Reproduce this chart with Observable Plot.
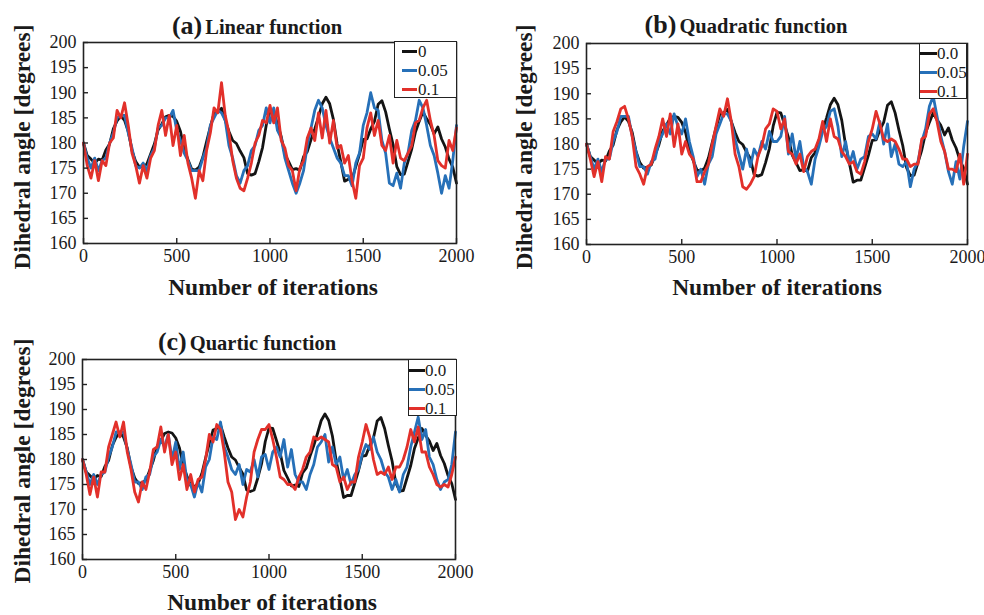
<!DOCTYPE html>
<html><head><meta charset="utf-8">
<script src="https://cdn.jsdelivr.net/npm/d3@7"></script>
<script src="https://cdn.jsdelivr.net/npm/@observablehq/plot@0.6"></script>
<style>
body{margin:0;background:#fff;}
#root{position:relative;width:984px;height:615px;overflow:hidden;font-family:"Liberation Serif","Tinos","Times New Roman","Nimbus Roman","DejaVu Serif",serif;color:#1a1a1a;background:#fff;}
.panel{position:absolute;}
.panel svg{max-width:none;overflow:visible;}
.title{position:absolute;font-weight:bold;white-space:nowrap;transform:translate(-50%,-50%);line-height:1;}
.title .tag{font-size:26px;}
.title .name{font-size:20.5px;margin-left:3px;}
.ylab{position:absolute;font-weight:bold;font-size:23.5px;white-space:nowrap;transform:translate(-50%,-50%) rotate(-90deg);line-height:1;}
.xlab{position:absolute;font-weight:bold;font-size:23.5px;white-space:nowrap;transform:translate(-50%,-50%);line-height:1;}
.legend{position:absolute;border:1.6px solid #222;background:#fff;box-sizing:border-box;}
.legend .ln{position:absolute;height:3px;}
.legend .tx{position:absolute;font-size:17px;line-height:1;transform:translateY(-50%);white-space:nowrap;}
</style>
</head><body>
<div id="root"></div>
<script>
const iterations = d3.range(0, 2001, 20);
const xTicks = [0, 500, 1000, 1500, 2000];
const yTicks = [160, 165, 170, 175, 180, 185, 190, 195, 200];

// unperturbed run (noise 0) – identical in the three panels
const zeroNoise = [180,177.5,176.8,176,176.8,176.6,178.6,179.8,182.8,184.4,
185.4,184.5,182.3,178.5,176.3,175.2,175.4,175.8,177.8,179.8,
182.6,183.8,185.2,185.5,185.3,184.3,182.3,178.8,176.7,174.8,
174.6,175.2,177.2,180.3,183.2,185.9,186.2,186.9,184.5,182.3,
180.5,179.9,178.4,177.1,173.9,173.6,173.9,176.3,179.1,183.6,
186.3,186.2,183.8,181.3,177.8,176.3,174.7,174.9,174.6,177.3,
178.3,180.7,182.8,185.2,187.8,189.1,187.8,184.7,179.8,176.2,
172.4,172.8,172.8,175.3,177.8,180.7,180.8,182.8,184.3,187.7,
188.4,186.2,182.8,179.7,175.3,173.7,173.8,176.3,178.8,182.2,
184.3,186.2,184.8,183.7,181.8,183.2,180.8,179.2,176.8,175.2,
172];

// (a) Linear function
const linear005 = [180,177,175,177,174.5,176.5,177,180,182,185,
185.5,185.5,182,179,175.5,175,176,174.5,177.5,179,
183,183.5,185,185,186.5,182.5,180.5,178,176.5,174.5,
174.5,174.5,177,179,183.5,185,186.5,186,184.5,179.5,
177,173.5,172,174.5,175.5,178.5,179.5,182.5,183.5,187,
184,187,182.5,181,177,174.5,172,170,172,174.5,
179.5,183,186.5,188.5,187,183.5,181,179,177,176,
173.5,173.5,171.5,176,178,183.5,186,190,187,186.5,
180.5,178,172,171.5,174,171,176,178,182.5,184.5,
188.5,187,183.5,179.5,177.5,174,170,173.5,171,176.5,
183.5];
const linear01 = [180,175.5,173,176.5,172.5,176.5,175.5,180,181,186.5,
185,188,183.5,178,175.5,172,175.5,173,177,178.5,
183.5,186.5,181.5,185.5,179.5,183.5,177.5,181.5,176,173,
169,174.5,172.5,178.5,182,187,186,192,185.5,182,
176.5,173,171,170.5,173,176,180,181.5,184.5,184,
187.5,184,187,180.5,179,175.5,174.5,170.5,175,176.5,
181,183,180.5,186,181,186.5,180,184.5,179,179.5,
176,177.5,172.5,169,175.5,177,183,186,181.5,184.5,
179.5,178.5,181.5,176,180.5,177,176.5,178,179.5,184,
184.5,187,188.5,184.5,181.5,176.5,175.5,175,180.5,178.5,
183];

// (b) Quadratic function
const quadratic005 = [180,177.5,175,177,174.5,177,177,180.5,182.5,185.5,
185.5,185.5,181.5,178.5,175.5,175.5,174,176.5,177,180.5,
182,184,182,186,183.5,182,185,180.5,177.5,173.5,
175,172,176,177.5,182,184,186,186,184.5,181,
178,175,179,175.5,179,177.5,180.5,179,182.5,180.5,
180.5,181.5,185.5,178,182,177,180.5,175.5,174.5,172,
177,179.5,182.5,183.5,186.5,187,183.5,177.5,180.5,176,
178.5,175,177,177.5,181.5,182,181,184.5,180,184,
177.5,180,176,175.5,176.5,171.5,175,176.5,180.5,183,
187.5,189.5,185.5,181.5,178.5,174.5,172,176.5,173,179.5,
184.5];
const quadratic01 = [180,177,173.5,176.5,172.5,177.5,177,182.5,184.5,187,
187.5,185,181.5,175.5,174,172,175.5,176,179,181.5,
185,181.5,186,179.5,184,178,180.5,178,177,172.5,
172.5,174.5,176,180,183.5,187,185.5,189,184.5,178,
175.5,171.5,171,172,173.5,177.5,179.5,183,184,187,
186.5,183,185,178.5,178,176,178,174.5,177.5,178.5,
179,181,184.5,180.5,185,181.5,181,178.5,177.5,176,
176.5,174.5,174,176.5,180.5,183,186.5,184,181,180.5,
181,180.5,179,177,177,175.5,176,176,181,181.5,
186,187,184.5,180.5,178.5,175,175,174.5,178,172,
178];

// (c) Quartic function
const quartic005 = [180,177.5,175,177,175,177,177.5,180.5,182.5,185.5,
185.5,185.5,182,179,175.5,175.5,174,176.5,177,180.5,
181.5,184,182.5,185,180,183.5,178,181.5,175.5,175,
172.5,175.5,173.5,178.5,180,184.5,184,187.5,182.5,180.5,
178,177,179,175,178,177.5,180,176.5,180.5,181,
178,181.5,182.5,180.5,184,178.5,182,177,175.5,175.5,
174,177,179,182.5,183.5,185,179.5,182.5,179,180.5,
176,178,175,177,178,181,183,182,184.5,181.5,
180,177.5,176.5,174,176,173.5,177,178.5,182.5,185.5,
188.5,184,186,180.5,179,176,174,175.5,176,179,
185.5];
const quartic01 = [180,177,173,176.5,172.5,177.5,177.5,182.5,185,187.5,
184.5,187.5,181.5,178,173.5,171.5,175.5,174,177.5,182,
182.5,186.5,181.5,185,179,181.5,176,179,174,177,
173.5,176,176.5,180,185,183.5,187,186,181.5,175.5,
173.5,168,170,168.5,172.5,175.5,181.5,184,186,186,
187,184,180.5,176.5,176,175,175,174,176.5,178,
180.5,181.5,184.5,184,184.5,184,183.5,179,178.5,175.5,
176.5,174,175.5,175.5,180.5,183.5,187,184.5,180,177,
177.5,177,178.5,176,178.5,178.5,180,182.5,186,183.5,
186.5,181.5,181.5,178.5,177,175,174.5,175,174.5,177,
180.5];

const colors = {zero: "#141414", blue: "#2670b8", red: "#e2302a"};

// ---- drawing ----
const root = document.getElementById("root");
const rows = vals => vals.map((v, i) => ({it: iterations[i], v}));
const FONT = "'Liberation Serif','Tinos','Times New Roman','Nimbus Roman','DejaVu Serif',serif";

function makePanel(cfg) {
  const chart = Plot.plot({
    width: cfg.width, height: cfg.height,
    marginLeft: cfg.ml, marginRight: cfg.mr, marginTop: cfg.mt, marginBottom: cfg.mb,
    style: {fontFamily: FONT, fontSize: "18px", color: "#1a1a1a", background: "transparent", overflow: "visible"},
    x: {domain: [0, 2000]},
    y: {domain: [160, 200]},
    marks: [
      Plot.line(rows(zeroNoise), {x: "it", y: "v", stroke: colors.zero, strokeWidth: 2.8, strokeLinejoin: "round"}),
      Plot.line(rows(cfg.blue), {x: "it", y: "v", stroke: colors.blue, strokeWidth: 2.8, strokeLinejoin: "round"}),
      Plot.line(rows(cfg.red), {x: "it", y: "v", stroke: colors.red, strokeWidth: 2.8, strokeLinejoin: "round"}),
      Plot.frame({stroke: "#222", strokeWidth: 1.6}),
      Plot.axisX({ticks: xTicks, tickSize: -5, tickPadding: 11, label: null, tickFormat: d => String(d), stroke: "#222", strokeWidth: 1.4}),
      Plot.axisY({ticks: yTicks, tickSize: -5, tickPadding: 12, label: null, tickFormat: d => String(d), stroke: "#222", strokeWidth: 1.4})
    ]
  });
  const div = document.createElement("div");
  div.className = "panel";
  div.style.left = cfg.left + "px";
  div.style.top = cfg.top + "px";
  div.appendChild(chart);
  root.appendChild(div);

  const t = document.createElement("div");
  t.className = "title";
  t.style.left = cfg.title.x + "px"; t.style.top = cfg.title.y + "px";
  t.innerHTML = `<span class="tag">${cfg.title.tag}</span><span class="name">${cfg.title.name}</span>`;
  root.appendChild(t);

  const yl = document.createElement("div");
  yl.className = "ylab"; yl.textContent = "Dihedral angle [degrees]";
  yl.style.left = cfg.ylab.x + "px"; yl.style.top = cfg.ylab.y + "px";
  root.appendChild(yl);

  const xl = document.createElement("div");
  xl.className = "xlab"; xl.textContent = "Number of iterations";
  xl.style.left = cfg.xlab.x + "px"; xl.style.top = cfg.xlab.y + "px";
  root.appendChild(xl);

  const lg = document.createElement("div");
  lg.className = "legend";
  const L = cfg.legend;
  lg.style.left = L.left + "px"; lg.style.top = L.top + "px";
  lg.style.width = L.w + "px"; lg.style.height = L.h + "px";
  const entries = [[L.labels[0], colors.zero], [L.labels[1], colors.blue], [L.labels[2], colors.red]];
  entries.forEach(([label, color], i) => {
    const yy = L.row0 + i * 19;
    const ln = document.createElement("div");
    ln.className = "ln";
    ln.style.left = L.l0 + "px"; ln.style.width = (L.l1 - L.l0) + "px";
    ln.style.top = (yy - 1.5) + "px"; ln.style.background = color;
    lg.appendChild(ln);
    const tx = document.createElement("div");
    tx.className = "tx"; tx.textContent = label;
    tx.style.left = L.tx + "px"; tx.style.top = yy + "px";
    lg.appendChild(tx);
  });
  root.appendChild(lg);
}

makePanel({
  left: 0, top: 0, width: 490, height: 273, ml: 83, mr: 34, mt: 42, mb: 30,
  blue: linear005, red: linear01,
  title: {x: 257, y: 26, tag: "(a)", name: "Linear function"},
  ylab: {x: 23, y: 147}, xlab: {x: 273, y: 288},
  legend: {left: 394, top: 41, w: 63, h: 57, row0: 9, l0: 7, l1: 22, tx: 23, labels: ["0", "0.05", "0.1"]}
});
makePanel({
  left: 490, top: 0, width: 494, height: 274, ml: 96, mr: 17, mt: 43, mb: 30,
  blue: quadratic005, red: quadratic01,
  title: {x: 746, y: 25, tag: "(b)", name: "Quadratic function"},
  ylab: {x: 525, y: 147}, xlab: {x: 777, y: 288},
  legend: {left: 919, top: 43, w: 48, h: 56, row0: 9, l0: 0, l1: 17, tx: 17, labels: ["0.0", "0.05", "0.1"]}
});
makePanel({
  left: 0, top: 317, width: 490, height: 272, ml: 82, mr: 35, mt: 42, mb: 30,
  blue: quartic005, red: quartic01,
  title: {x: 247, y: 342, tag: "(c)", name: "Quartic function"},
  ylab: {x: 23, y: 461}, xlab: {x: 272, y: 603},
  legend: {left: 408, top: 359, w: 49, h: 57, row0: 10, l0: 0, l1: 16, tx: 16, labels: ["0.0", "0.05", "0.1"]}
});
</script>
</body></html>
